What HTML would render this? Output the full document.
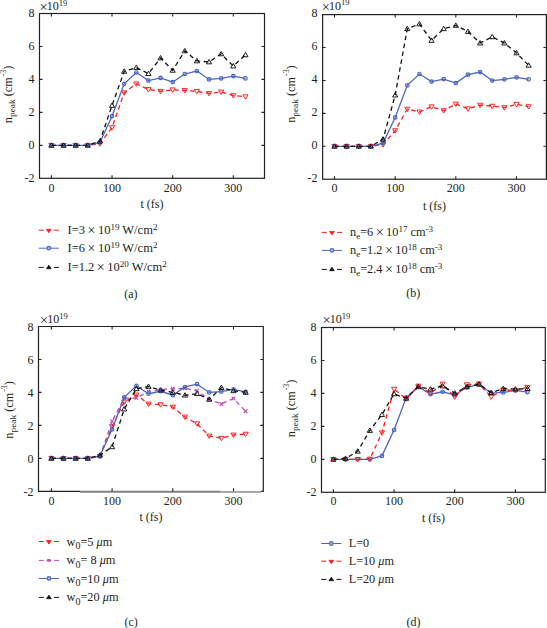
<!DOCTYPE html>
<html><head><meta charset="utf-8"><style>
html,body{margin:0;padding:0;background:#fff;width:547px;height:628px;overflow:hidden}
svg{display:block}
</style></head><body>
<svg width="547" height="628" viewBox="0 0 547 628" font-family='"Liberation Serif", serif' fill="#231f20">
<rect x="39.5" y="13.5" width="225.0" height="164.8" fill="none" stroke="#222" stroke-width="1.2"/>
<path d="M51.40,178.3v-3M51.40,13.5v3M112.03,178.3v-3M112.03,13.5v3M172.67,178.3v-3M172.67,13.5v3M233.30,178.3v-3M233.30,13.5v3M39.5,145.34h3M264.5,145.34h-3M39.5,112.38h3M264.5,112.38h-3M39.5,79.42h3M264.5,79.42h-3M39.5,46.46h3M264.5,46.46h-3" stroke="#222" stroke-width="1.1" fill="none"/>
<text x="51.40" y="192.10" text-anchor="middle" font-size="12">0</text>
<text x="112.03" y="192.10" text-anchor="middle" font-size="12">100</text>
<text x="172.67" y="192.10" text-anchor="middle" font-size="12">200</text>
<text x="233.30" y="192.10" text-anchor="middle" font-size="12">300</text>
<text x="34.50" y="182.00" text-anchor="end" font-size="12">-2</text>
<text x="34.50" y="149.04" text-anchor="end" font-size="12">0</text>
<text x="34.50" y="116.08" text-anchor="end" font-size="12">2</text>
<text x="34.50" y="83.12" text-anchor="end" font-size="12">4</text>
<text x="34.50" y="50.16" text-anchor="end" font-size="12">6</text>
<text x="34.50" y="17.20" text-anchor="end" font-size="12">8</text>
<text x="39.50" y="10.00" font-size="12"><tspan font-size="14.5" dy="2">×</tspan><tspan dx="-1" dy="-2">10</tspan><tspan font-size="8.5" dy="-4.5">19</tspan></text>
<text x="152.00" y="207.80" text-anchor="middle" font-size="12">t (fs)</text>
<text transform="translate(11.90,94.40) rotate(-90) scale(1.045,1)" text-anchor="middle" font-size="11.7">n<tspan font-size="9" dy="3">peak</tspan><tspan dy="-3"> (cm</tspan><tspan font-size="7.5" dy="-5.5" dx="1">-3</tspan><tspan dy="5.5">)</tspan></text>
<polyline points="51.40,145.34 63.53,145.34 75.65,145.34 87.78,145.34 99.91,143.69 112.03,127.54 124.16,92.77 136.29,83.87 148.41,89.47 160.54,91.29 172.67,89.80 184.79,90.46 196.92,91.29 209.05,93.43 221.17,91.94 233.30,95.57 245.43,96.72" fill="none" stroke="#ff1a1a" stroke-width="1.3" stroke-dasharray="4.5 3.5"/>
<path d="M48.80,143.47L54.00,143.47L51.40,147.84Z" fill="none" stroke="#ff1a1a" stroke-width="0.95" stroke-linejoin="miter"/>
<path d="M60.93,143.47L66.13,143.47L63.53,147.84Z" fill="none" stroke="#ff1a1a" stroke-width="0.95" stroke-linejoin="miter"/>
<path d="M73.05,143.47L78.25,143.47L75.65,147.84Z" fill="none" stroke="#ff1a1a" stroke-width="0.95" stroke-linejoin="miter"/>
<path d="M85.18,143.47L90.38,143.47L87.78,147.84Z" fill="none" stroke="#ff1a1a" stroke-width="0.95" stroke-linejoin="miter"/>
<path d="M97.31,141.82L102.51,141.82L99.91,146.19Z" fill="none" stroke="#ff1a1a" stroke-width="0.95" stroke-linejoin="miter"/>
<path d="M109.43,125.67L114.63,125.67L112.03,130.04Z" fill="none" stroke="#ff1a1a" stroke-width="0.95" stroke-linejoin="miter"/>
<path d="M121.56,90.89L126.76,90.89L124.16,95.27Z" fill="none" stroke="#ff1a1a" stroke-width="0.95" stroke-linejoin="miter"/>
<path d="M133.69,81.99L138.89,81.99L136.29,86.37Z" fill="none" stroke="#ff1a1a" stroke-width="0.95" stroke-linejoin="miter"/>
<path d="M145.81,87.60L151.01,87.60L148.41,91.97Z" fill="none" stroke="#ff1a1a" stroke-width="0.95" stroke-linejoin="miter"/>
<path d="M157.94,89.41L163.14,89.41L160.54,93.79Z" fill="none" stroke="#ff1a1a" stroke-width="0.95" stroke-linejoin="miter"/>
<path d="M170.07,87.93L175.27,87.93L172.67,92.30Z" fill="none" stroke="#ff1a1a" stroke-width="0.95" stroke-linejoin="miter"/>
<path d="M182.19,88.59L187.39,88.59L184.79,92.96Z" fill="none" stroke="#ff1a1a" stroke-width="0.95" stroke-linejoin="miter"/>
<path d="M194.32,89.41L199.52,89.41L196.92,93.79Z" fill="none" stroke="#ff1a1a" stroke-width="0.95" stroke-linejoin="miter"/>
<path d="M206.45,91.55L211.65,91.55L209.05,95.93Z" fill="none" stroke="#ff1a1a" stroke-width="0.95" stroke-linejoin="miter"/>
<path d="M218.57,90.07L223.77,90.07L221.17,94.44Z" fill="none" stroke="#ff1a1a" stroke-width="0.95" stroke-linejoin="miter"/>
<path d="M230.70,93.70L235.90,93.70L233.30,98.07Z" fill="none" stroke="#ff1a1a" stroke-width="0.95" stroke-linejoin="miter"/>
<path d="M242.83,94.85L248.03,94.85L245.43,99.22Z" fill="none" stroke="#ff1a1a" stroke-width="0.95" stroke-linejoin="miter"/>
<polyline points="51.40,145.34 63.53,145.34 75.65,145.34 87.78,145.34 99.91,142.54 112.03,116.17 124.16,83.87 136.29,72.50 148.41,80.57 160.54,77.94 172.67,82.06 184.79,73.98 196.92,71.02 209.05,79.42 221.17,78.43 233.30,76.12 245.43,78.43" fill="none" stroke="#4b67c0" stroke-width="1.3"/>
<circle cx="51.40" cy="145.34" r="1.75" fill="none" stroke="#4b67c0" stroke-width="1.2"/>
<circle cx="63.53" cy="145.34" r="1.75" fill="none" stroke="#4b67c0" stroke-width="1.2"/>
<circle cx="75.65" cy="145.34" r="1.75" fill="none" stroke="#4b67c0" stroke-width="1.2"/>
<circle cx="87.78" cy="145.34" r="1.75" fill="none" stroke="#4b67c0" stroke-width="1.2"/>
<circle cx="99.91" cy="142.54" r="1.75" fill="none" stroke="#4b67c0" stroke-width="1.2"/>
<circle cx="112.03" cy="116.17" r="1.75" fill="none" stroke="#4b67c0" stroke-width="1.2"/>
<circle cx="124.16" cy="83.87" r="1.75" fill="none" stroke="#4b67c0" stroke-width="1.2"/>
<circle cx="136.29" cy="72.50" r="1.75" fill="none" stroke="#4b67c0" stroke-width="1.2"/>
<circle cx="148.41" cy="80.57" r="1.75" fill="none" stroke="#4b67c0" stroke-width="1.2"/>
<circle cx="160.54" cy="77.94" r="1.75" fill="none" stroke="#4b67c0" stroke-width="1.2"/>
<circle cx="172.67" cy="82.06" r="1.75" fill="none" stroke="#4b67c0" stroke-width="1.2"/>
<circle cx="184.79" cy="73.98" r="1.75" fill="none" stroke="#4b67c0" stroke-width="1.2"/>
<circle cx="196.92" cy="71.02" r="1.75" fill="none" stroke="#4b67c0" stroke-width="1.2"/>
<circle cx="209.05" cy="79.42" r="1.75" fill="none" stroke="#4b67c0" stroke-width="1.2"/>
<circle cx="221.17" cy="78.43" r="1.75" fill="none" stroke="#4b67c0" stroke-width="1.2"/>
<circle cx="233.30" cy="76.12" r="1.75" fill="none" stroke="#4b67c0" stroke-width="1.2"/>
<circle cx="245.43" cy="78.43" r="1.75" fill="none" stroke="#4b67c0" stroke-width="1.2"/>
<polyline points="51.40,145.34 63.53,145.34 75.65,145.34 87.78,145.34 99.91,141.22 112.03,105.46 124.16,71.34 136.29,67.55 148.41,73.65 160.54,58.00 172.67,70.36 184.79,50.91 196.92,60.96 209.05,61.95 221.17,53.88 233.30,66.07 245.43,54.86" fill="none" stroke="#111111" stroke-width="1.3" stroke-dasharray="4.5 3.5"/>
<path d="M48.80,147.22L54.00,147.22L51.40,142.84Z" fill="none" stroke="#111111" stroke-width="0.95" stroke-linejoin="miter"/>
<path d="M60.93,147.22L66.13,147.22L63.53,142.84Z" fill="none" stroke="#111111" stroke-width="0.95" stroke-linejoin="miter"/>
<path d="M73.05,147.22L78.25,147.22L75.65,142.84Z" fill="none" stroke="#111111" stroke-width="0.95" stroke-linejoin="miter"/>
<path d="M85.18,147.22L90.38,147.22L87.78,142.84Z" fill="none" stroke="#111111" stroke-width="0.95" stroke-linejoin="miter"/>
<path d="M97.31,143.10L102.51,143.10L99.91,138.72Z" fill="none" stroke="#111111" stroke-width="0.95" stroke-linejoin="miter"/>
<path d="M109.43,107.33L114.63,107.33L112.03,102.96Z" fill="none" stroke="#111111" stroke-width="0.95" stroke-linejoin="miter"/>
<path d="M121.56,73.22L126.76,73.22L124.16,68.84Z" fill="none" stroke="#111111" stroke-width="0.95" stroke-linejoin="miter"/>
<path d="M133.69,69.43L138.89,69.43L136.29,65.05Z" fill="none" stroke="#111111" stroke-width="0.95" stroke-linejoin="miter"/>
<path d="M145.81,75.53L151.01,75.53L148.41,71.15Z" fill="none" stroke="#111111" stroke-width="0.95" stroke-linejoin="miter"/>
<path d="M157.94,59.87L163.14,59.87L160.54,55.50Z" fill="none" stroke="#111111" stroke-width="0.95" stroke-linejoin="miter"/>
<path d="M170.07,72.23L175.27,72.23L172.67,67.86Z" fill="none" stroke="#111111" stroke-width="0.95" stroke-linejoin="miter"/>
<path d="M182.19,52.78L187.39,52.78L184.79,48.41Z" fill="none" stroke="#111111" stroke-width="0.95" stroke-linejoin="miter"/>
<path d="M194.32,62.84L199.52,62.84L196.92,58.46Z" fill="none" stroke="#111111" stroke-width="0.95" stroke-linejoin="miter"/>
<path d="M206.45,63.83L211.65,63.83L209.05,59.45Z" fill="none" stroke="#111111" stroke-width="0.95" stroke-linejoin="miter"/>
<path d="M218.57,55.75L223.77,55.75L221.17,51.38Z" fill="none" stroke="#111111" stroke-width="0.95" stroke-linejoin="miter"/>
<path d="M230.70,67.95L235.90,67.95L233.30,63.57Z" fill="none" stroke="#111111" stroke-width="0.95" stroke-linejoin="miter"/>
<path d="M242.83,56.74L248.03,56.74L245.43,52.36Z" fill="none" stroke="#111111" stroke-width="0.95" stroke-linejoin="miter"/>
<path d="M38.70,230.20h5M53.90,230.20h5" stroke="#ff1a1a" stroke-width="1"/>
<path d="M46.40,229.30L51.20,229.30L48.80,232.80Z" fill="#ff1a1a" stroke="#ff1a1a" stroke-width="0.8"/>
<text x="67.50" y="234.20" font-size="12.5">I=3 <tspan font-size="14" dx="-0.6" dy="0.8">×</tspan><tspan dx="-0.6" dy="-0.8"> 10</tspan><tspan font-size="9" dy="-4.6">19</tspan><tspan dy="4.6"> W/cm</tspan><tspan font-size="9" dy="-4.6">2</tspan></text>
<path d="M38.70,248.20h20.2" stroke="#4b67c0" stroke-width="1"/>
<circle cx="48.80" cy="248.20" r="1.85" fill="#9fb0e0" stroke="#4b67c0" stroke-width="1.1"/>
<text x="67.50" y="252.20" font-size="12.5">I=6 <tspan font-size="14" dx="-0.6" dy="0.8">×</tspan><tspan dx="-0.6" dy="-0.8"> 10</tspan><tspan font-size="9" dy="-4.6">19</tspan><tspan dy="4.6"> W/cm</tspan><tspan font-size="9" dy="-4.6">2</tspan></text>
<path d="M38.70,267.40h5M53.90,267.40h5" stroke="#111111" stroke-width="1"/>
<path d="M46.40,268.70L51.20,268.70L48.80,265.20Z" fill="#111111" stroke="#111111" stroke-width="0.8"/>
<text x="67.50" y="271.40" font-size="12.5">I=1.2 <tspan font-size="14" dx="-0.6" dy="0.8">×</tspan><tspan dx="-0.6" dy="-0.8"> 10</tspan><tspan font-size="9" dy="-4.6">20</tspan><tspan dy="4.6"> W/cm</tspan><tspan font-size="9" dy="-4.6">2</tspan></text>
<text x="130.9" y="297.9" text-anchor="middle" font-size="12">(a)</text>
<rect x="322.6" y="14.6" width="223.79999999999995" height="164.6" fill="none" stroke="#222" stroke-width="1.2"/>
<path d="M334.50,179.2v-3M334.50,14.6v3M395.17,179.2v-3M395.17,14.6v3M455.83,179.2v-3M455.83,14.6v3M516.50,179.2v-3M516.50,14.6v3M322.6,146.28h3M546.4,146.28h-3M322.6,113.36h3M546.4,113.36h-3M322.6,80.44h3M546.4,80.44h-3M322.6,47.52h3M546.4,47.52h-3" stroke="#222" stroke-width="1.1" fill="none"/>
<text x="334.50" y="192.00" text-anchor="middle" font-size="12">0</text>
<text x="395.17" y="192.00" text-anchor="middle" font-size="12">100</text>
<text x="455.83" y="192.00" text-anchor="middle" font-size="12">200</text>
<text x="516.50" y="192.00" text-anchor="middle" font-size="12">300</text>
<text x="317.60" y="181.80" text-anchor="end" font-size="12">-2</text>
<text x="317.60" y="148.88" text-anchor="end" font-size="12">0</text>
<text x="317.60" y="115.96" text-anchor="end" font-size="12">2</text>
<text x="317.60" y="83.04" text-anchor="end" font-size="12">4</text>
<text x="317.60" y="50.12" text-anchor="end" font-size="12">6</text>
<text x="317.60" y="17.20" text-anchor="end" font-size="12">8</text>
<text x="321.80" y="9.70" font-size="12"><tspan font-size="14.5" dy="2">×</tspan><tspan dx="-1" dy="-2">10</tspan><tspan font-size="8.5" dy="-4.5">19</tspan></text>
<text x="434.50" y="209.50" text-anchor="middle" font-size="12">t (fs)</text>
<text transform="translate(294.50,94.10) rotate(-90) scale(1.045,1)" text-anchor="middle" font-size="11.7">n<tspan font-size="9" dy="3">peak</tspan><tspan dy="-3"> (cm</tspan><tspan font-size="7.5" dy="-5.5" dx="1">-3</tspan><tspan dy="5.5">)</tspan></text>
<polyline points="334.50,146.28 346.63,146.28 358.77,146.28 370.90,146.28 383.03,144.63 395.17,130.64 407.30,109.08 419.43,111.88 431.57,106.78 443.70,110.56 455.83,103.98 467.97,108.75 480.10,105.13 492.23,106.12 504.37,107.60 516.50,104.31 528.63,106.61" fill="none" stroke="#ff1a1a" stroke-width="1.3" stroke-dasharray="4.5 3.5"/>
<path d="M331.90,144.41L337.10,144.41L334.50,148.78Z" fill="none" stroke="#ff1a1a" stroke-width="0.95" stroke-linejoin="miter"/>
<path d="M344.03,144.41L349.23,144.41L346.63,148.78Z" fill="none" stroke="#ff1a1a" stroke-width="0.95" stroke-linejoin="miter"/>
<path d="M356.17,144.41L361.37,144.41L358.77,148.78Z" fill="none" stroke="#ff1a1a" stroke-width="0.95" stroke-linejoin="miter"/>
<path d="M368.30,144.41L373.50,144.41L370.90,148.78Z" fill="none" stroke="#ff1a1a" stroke-width="0.95" stroke-linejoin="miter"/>
<path d="M380.43,142.76L385.63,142.76L383.03,147.13Z" fill="none" stroke="#ff1a1a" stroke-width="0.95" stroke-linejoin="miter"/>
<path d="M392.57,128.77L397.77,128.77L395.17,133.14Z" fill="none" stroke="#ff1a1a" stroke-width="0.95" stroke-linejoin="miter"/>
<path d="M404.70,107.21L409.90,107.21L407.30,111.58Z" fill="none" stroke="#ff1a1a" stroke-width="0.95" stroke-linejoin="miter"/>
<path d="M416.83,110.00L422.03,110.00L419.43,114.38Z" fill="none" stroke="#ff1a1a" stroke-width="0.95" stroke-linejoin="miter"/>
<path d="M428.97,104.90L434.17,104.90L431.57,109.28Z" fill="none" stroke="#ff1a1a" stroke-width="0.95" stroke-linejoin="miter"/>
<path d="M441.10,108.69L446.30,108.69L443.70,113.06Z" fill="none" stroke="#ff1a1a" stroke-width="0.95" stroke-linejoin="miter"/>
<path d="M453.23,102.10L458.43,102.10L455.83,106.48Z" fill="none" stroke="#ff1a1a" stroke-width="0.95" stroke-linejoin="miter"/>
<path d="M465.37,106.88L470.57,106.88L467.97,111.25Z" fill="none" stroke="#ff1a1a" stroke-width="0.95" stroke-linejoin="miter"/>
<path d="M477.50,103.25L482.70,103.25L480.10,107.63Z" fill="none" stroke="#ff1a1a" stroke-width="0.95" stroke-linejoin="miter"/>
<path d="M489.63,104.24L494.83,104.24L492.23,108.62Z" fill="none" stroke="#ff1a1a" stroke-width="0.95" stroke-linejoin="miter"/>
<path d="M501.77,105.72L506.97,105.72L504.37,110.10Z" fill="none" stroke="#ff1a1a" stroke-width="0.95" stroke-linejoin="miter"/>
<path d="M513.90,102.43L519.10,102.43L516.50,106.81Z" fill="none" stroke="#ff1a1a" stroke-width="0.95" stroke-linejoin="miter"/>
<path d="M526.03,104.74L531.23,104.74L528.63,109.11Z" fill="none" stroke="#ff1a1a" stroke-width="0.95" stroke-linejoin="miter"/>
<polyline points="334.50,146.28 346.63,146.28 358.77,146.28 370.90,146.28 383.03,143.15 395.17,117.47 407.30,85.38 419.43,74.02 431.57,81.59 443.70,79.12 455.83,83.07 467.97,74.68 480.10,72.05 492.23,80.60 504.37,79.29 516.50,77.31 528.63,79.29" fill="none" stroke="#4b67c0" stroke-width="1.3"/>
<circle cx="334.50" cy="146.28" r="1.75" fill="none" stroke="#4b67c0" stroke-width="1.2"/>
<circle cx="346.63" cy="146.28" r="1.75" fill="none" stroke="#4b67c0" stroke-width="1.2"/>
<circle cx="358.77" cy="146.28" r="1.75" fill="none" stroke="#4b67c0" stroke-width="1.2"/>
<circle cx="370.90" cy="146.28" r="1.75" fill="none" stroke="#4b67c0" stroke-width="1.2"/>
<circle cx="383.03" cy="143.15" r="1.75" fill="none" stroke="#4b67c0" stroke-width="1.2"/>
<circle cx="395.17" cy="117.47" r="1.75" fill="none" stroke="#4b67c0" stroke-width="1.2"/>
<circle cx="407.30" cy="85.38" r="1.75" fill="none" stroke="#4b67c0" stroke-width="1.2"/>
<circle cx="419.43" cy="74.02" r="1.75" fill="none" stroke="#4b67c0" stroke-width="1.2"/>
<circle cx="431.57" cy="81.59" r="1.75" fill="none" stroke="#4b67c0" stroke-width="1.2"/>
<circle cx="443.70" cy="79.12" r="1.75" fill="none" stroke="#4b67c0" stroke-width="1.2"/>
<circle cx="455.83" cy="83.07" r="1.75" fill="none" stroke="#4b67c0" stroke-width="1.2"/>
<circle cx="467.97" cy="74.68" r="1.75" fill="none" stroke="#4b67c0" stroke-width="1.2"/>
<circle cx="480.10" cy="72.05" r="1.75" fill="none" stroke="#4b67c0" stroke-width="1.2"/>
<circle cx="492.23" cy="80.60" r="1.75" fill="none" stroke="#4b67c0" stroke-width="1.2"/>
<circle cx="504.37" cy="79.29" r="1.75" fill="none" stroke="#4b67c0" stroke-width="1.2"/>
<circle cx="516.50" cy="77.31" r="1.75" fill="none" stroke="#4b67c0" stroke-width="1.2"/>
<circle cx="528.63" cy="79.29" r="1.75" fill="none" stroke="#4b67c0" stroke-width="1.2"/>
<polyline points="334.50,146.28 346.63,146.28 358.77,146.28 370.90,146.28 383.03,139.20 395.17,95.09 407.30,28.76 419.43,23.98 431.57,40.44 443.70,28.76 455.83,25.46 467.97,31.55 480.10,43.08 492.23,36.82 504.37,43.08 516.50,52.95 528.63,65.30" fill="none" stroke="#111111" stroke-width="1.3" stroke-dasharray="4.5 3.5"/>
<path d="M331.90,148.16L337.10,148.16L334.50,143.78Z" fill="none" stroke="#111111" stroke-width="0.95" stroke-linejoin="miter"/>
<path d="M344.03,148.16L349.23,148.16L346.63,143.78Z" fill="none" stroke="#111111" stroke-width="0.95" stroke-linejoin="miter"/>
<path d="M356.17,148.16L361.37,148.16L358.77,143.78Z" fill="none" stroke="#111111" stroke-width="0.95" stroke-linejoin="miter"/>
<path d="M368.30,148.16L373.50,148.16L370.90,143.78Z" fill="none" stroke="#111111" stroke-width="0.95" stroke-linejoin="miter"/>
<path d="M380.43,141.08L385.63,141.08L383.03,136.70Z" fill="none" stroke="#111111" stroke-width="0.95" stroke-linejoin="miter"/>
<path d="M392.57,96.96L397.77,96.96L395.17,92.59Z" fill="none" stroke="#111111" stroke-width="0.95" stroke-linejoin="miter"/>
<path d="M404.70,30.63L409.90,30.63L407.30,26.26Z" fill="none" stroke="#111111" stroke-width="0.95" stroke-linejoin="miter"/>
<path d="M416.83,25.86L422.03,25.86L419.43,21.48Z" fill="none" stroke="#111111" stroke-width="0.95" stroke-linejoin="miter"/>
<path d="M428.97,42.32L434.17,42.32L431.57,37.94Z" fill="none" stroke="#111111" stroke-width="0.95" stroke-linejoin="miter"/>
<path d="M441.10,30.63L446.30,30.63L443.70,26.26Z" fill="none" stroke="#111111" stroke-width="0.95" stroke-linejoin="miter"/>
<path d="M453.23,27.34L458.43,27.34L455.83,22.96Z" fill="none" stroke="#111111" stroke-width="0.95" stroke-linejoin="miter"/>
<path d="M465.37,33.43L470.57,33.43L467.97,29.05Z" fill="none" stroke="#111111" stroke-width="0.95" stroke-linejoin="miter"/>
<path d="M477.50,44.95L482.70,44.95L480.10,40.58Z" fill="none" stroke="#111111" stroke-width="0.95" stroke-linejoin="miter"/>
<path d="M489.63,38.70L494.83,38.70L492.23,34.32Z" fill="none" stroke="#111111" stroke-width="0.95" stroke-linejoin="miter"/>
<path d="M501.77,44.95L506.97,44.95L504.37,40.58Z" fill="none" stroke="#111111" stroke-width="0.95" stroke-linejoin="miter"/>
<path d="M513.90,54.83L519.10,54.83L516.50,50.45Z" fill="none" stroke="#111111" stroke-width="0.95" stroke-linejoin="miter"/>
<path d="M526.03,67.17L531.23,67.17L528.63,62.80Z" fill="none" stroke="#111111" stroke-width="0.95" stroke-linejoin="miter"/>
<path d="M321.80,232.40h5M337.00,232.40h5" stroke="#ff1a1a" stroke-width="1"/>
<path d="M329.50,231.50L334.30,231.50L331.90,235.00Z" fill="#ff1a1a" stroke="#ff1a1a" stroke-width="0.8"/>
<text x="350.00" y="236.40" font-size="12.3">n<tspan font-size="9" dy="3">e</tspan><tspan dy="-3">=6 </tspan><tspan font-size="14" dx="-0.6" dy="0.8">×</tspan><tspan dx="-0.6" dy="-0.8"> 10</tspan><tspan font-size="9" dy="-4.6">17</tspan><tspan dy="4.6"> cm</tspan><tspan font-size="9" dy="-4.6">-3</tspan></text>
<path d="M321.80,250.40h20.2" stroke="#4b67c0" stroke-width="1"/>
<circle cx="331.90" cy="250.40" r="1.85" fill="#9fb0e0" stroke="#4b67c0" stroke-width="1.1"/>
<text x="350.00" y="254.40" font-size="12.3">n<tspan font-size="9" dy="3">e</tspan><tspan dy="-3">=1.2 </tspan><tspan font-size="14" dx="-0.6" dy="0.8">×</tspan><tspan dx="-0.6" dy="-0.8"> 10</tspan><tspan font-size="9" dy="-4.6">18</tspan><tspan dy="4.6"> cm</tspan><tspan font-size="9" dy="-4.6">-3</tspan></text>
<path d="M321.80,269.40h5M337.00,269.40h5" stroke="#111111" stroke-width="1"/>
<path d="M329.50,270.70L334.30,270.70L331.90,267.20Z" fill="#111111" stroke="#111111" stroke-width="0.8"/>
<text x="350.00" y="273.40" font-size="12.3">n<tspan font-size="9" dy="3">e</tspan><tspan dy="-3">=2.4 </tspan><tspan font-size="14" dx="-0.6" dy="0.8">×</tspan><tspan dx="-0.6" dy="-0.8"> 10</tspan><tspan font-size="9" dy="-4.6">18</tspan><tspan dy="4.6"> cm</tspan><tspan font-size="9" dy="-4.6">-3</tspan></text>
<text x="413.2" y="297.3" text-anchor="middle" font-size="12">(b)</text>
<path d="M38.5,491.3V326.5H263.3V491.3" fill="none" stroke="#222" stroke-width="1.2"/>
<path d="M37.9,491.3H80" stroke="#222" stroke-width="1.2"/>
<rect x="80" y="490.8" width="140.8" height="1.9" fill="#7c7c7c"/>
<rect x="220.8" y="491" width="40.2" height="1.9" fill="#a4a4a4"/>
<path d="M261,491.3H263.90000000000003" stroke="#222" stroke-width="1.2"/>
<path d="M51.40,491.3v-3M51.40,326.5v3M112.10,491.3v-3M112.10,326.5v3M172.80,491.3v-3M172.80,326.5v3M233.50,491.3v-3M233.50,326.5v3M38.5,458.34h3M263.3,458.34h-3M38.5,425.38h3M263.3,425.38h-3M38.5,392.42h3M263.3,392.42h-3M38.5,359.46h3M263.3,359.46h-3" stroke="#222" stroke-width="1.1" fill="none"/>
<text x="51.40" y="505.10" text-anchor="middle" font-size="12">0</text>
<text x="112.10" y="505.10" text-anchor="middle" font-size="12">100</text>
<text x="172.80" y="505.10" text-anchor="middle" font-size="12">200</text>
<text x="233.50" y="505.10" text-anchor="middle" font-size="12">300</text>
<text x="33.50" y="496.20" text-anchor="end" font-size="12">-2</text>
<text x="33.50" y="463.24" text-anchor="end" font-size="12">0</text>
<text x="33.50" y="430.28" text-anchor="end" font-size="12">2</text>
<text x="33.50" y="397.32" text-anchor="end" font-size="12">4</text>
<text x="33.50" y="364.36" text-anchor="end" font-size="12">6</text>
<text x="33.50" y="331.40" text-anchor="end" font-size="12">8</text>
<text x="40.00" y="323.00" font-size="12"><tspan font-size="14.5" dy="2">×</tspan><tspan dx="-1" dy="-2">10</tspan><tspan font-size="8.5" dy="-4.5">19</tspan></text>
<text x="150.90" y="520.60" text-anchor="middle" font-size="12">t (fs)</text>
<text transform="translate(12.50,409.90) rotate(-90) scale(1.045,1)" text-anchor="middle" font-size="11.7">n<tspan font-size="9" dy="3">peak</tspan><tspan dy="-3"> (cm</tspan><tspan font-size="7.5" dy="-5.5" dx="1">-3</tspan><tspan dy="5.5">)</tspan></text>
<polyline points="51.40,458.34 63.54,458.34 75.68,458.34 87.82,458.34 99.96,456.36 112.10,426.53 124.24,401.98 136.38,394.89 148.52,403.96 160.66,404.62 172.80,407.09 184.94,416.98 197.08,423.73 209.22,435.93 221.36,438.23 233.50,434.94 245.64,434.11" fill="none" stroke="#ff1a1a" stroke-width="1.3" stroke-dasharray="4.5 3.5"/>
<path d="M48.80,456.47L54.00,456.47L51.40,460.84Z" fill="none" stroke="#ff1a1a" stroke-width="0.95" stroke-linejoin="miter"/>
<path d="M60.94,456.47L66.14,456.47L63.54,460.84Z" fill="none" stroke="#ff1a1a" stroke-width="0.95" stroke-linejoin="miter"/>
<path d="M73.08,456.47L78.28,456.47L75.68,460.84Z" fill="none" stroke="#ff1a1a" stroke-width="0.95" stroke-linejoin="miter"/>
<path d="M85.22,456.47L90.42,456.47L87.82,460.84Z" fill="none" stroke="#ff1a1a" stroke-width="0.95" stroke-linejoin="miter"/>
<path d="M97.36,454.49L102.56,454.49L99.96,458.86Z" fill="none" stroke="#ff1a1a" stroke-width="0.95" stroke-linejoin="miter"/>
<path d="M109.50,424.66L114.70,424.66L112.10,429.03Z" fill="none" stroke="#ff1a1a" stroke-width="0.95" stroke-linejoin="miter"/>
<path d="M121.64,400.10L126.84,400.10L124.24,404.48Z" fill="none" stroke="#ff1a1a" stroke-width="0.95" stroke-linejoin="miter"/>
<path d="M133.78,393.02L138.98,393.02L136.38,397.39Z" fill="none" stroke="#ff1a1a" stroke-width="0.95" stroke-linejoin="miter"/>
<path d="M145.92,402.08L151.12,402.08L148.52,406.46Z" fill="none" stroke="#ff1a1a" stroke-width="0.95" stroke-linejoin="miter"/>
<path d="M158.06,402.74L163.26,402.74L160.66,407.12Z" fill="none" stroke="#ff1a1a" stroke-width="0.95" stroke-linejoin="miter"/>
<path d="M170.20,405.21L175.40,405.21L172.80,409.59Z" fill="none" stroke="#ff1a1a" stroke-width="0.95" stroke-linejoin="miter"/>
<path d="M182.34,415.10L187.54,415.10L184.94,419.48Z" fill="none" stroke="#ff1a1a" stroke-width="0.95" stroke-linejoin="miter"/>
<path d="M194.48,421.86L199.68,421.86L197.08,426.23Z" fill="none" stroke="#ff1a1a" stroke-width="0.95" stroke-linejoin="miter"/>
<path d="M206.62,434.05L211.82,434.05L209.22,438.43Z" fill="none" stroke="#ff1a1a" stroke-width="0.95" stroke-linejoin="miter"/>
<path d="M218.76,436.36L223.96,436.36L221.36,440.73Z" fill="none" stroke="#ff1a1a" stroke-width="0.95" stroke-linejoin="miter"/>
<path d="M230.90,433.06L236.10,433.06L233.50,437.44Z" fill="none" stroke="#ff1a1a" stroke-width="0.95" stroke-linejoin="miter"/>
<path d="M243.04,432.24L248.24,432.24L245.64,436.61Z" fill="none" stroke="#ff1a1a" stroke-width="0.95" stroke-linejoin="miter"/>
<polyline points="51.40,458.34 63.54,458.34 75.68,458.34 87.82,458.34 99.96,456.36 112.10,421.26 124.24,398.19 136.38,398.02 148.52,391.43 160.66,389.62 172.80,388.79 184.94,388.30 197.08,390.77 209.22,399.67 221.36,403.96 233.50,398.52 245.64,411.21" fill="none" stroke="#c04ab0" stroke-width="1.3" stroke-dasharray="4.5 3.5"/>
<path d="M49.60,456.54L53.20,460.14M49.60,460.14L53.20,456.54" stroke="#c04ab0" stroke-width="1.1"/>
<path d="M61.74,456.54L65.34,460.14M61.74,460.14L65.34,456.54" stroke="#c04ab0" stroke-width="1.1"/>
<path d="M73.88,456.54L77.48,460.14M73.88,460.14L77.48,456.54" stroke="#c04ab0" stroke-width="1.1"/>
<path d="M86.02,456.54L89.62,460.14M86.02,460.14L89.62,456.54" stroke="#c04ab0" stroke-width="1.1"/>
<path d="M98.16,454.56L101.76,458.16M98.16,458.16L101.76,454.56" stroke="#c04ab0" stroke-width="1.1"/>
<path d="M110.30,419.46L113.90,423.06M110.30,423.06L113.90,419.46" stroke="#c04ab0" stroke-width="1.1"/>
<path d="M122.44,396.39L126.04,399.99M122.44,399.99L126.04,396.39" stroke="#c04ab0" stroke-width="1.1"/>
<path d="M134.58,396.22L138.18,399.82M134.58,399.82L138.18,396.22" stroke="#c04ab0" stroke-width="1.1"/>
<path d="M146.72,389.63L150.32,393.23M146.72,393.23L150.32,389.63" stroke="#c04ab0" stroke-width="1.1"/>
<path d="M158.86,387.82L162.46,391.42M158.86,391.42L162.46,387.82" stroke="#c04ab0" stroke-width="1.1"/>
<path d="M171.00,386.99L174.60,390.59M171.00,390.59L174.60,386.99" stroke="#c04ab0" stroke-width="1.1"/>
<path d="M183.14,386.50L186.74,390.10M183.14,390.10L186.74,386.50" stroke="#c04ab0" stroke-width="1.1"/>
<path d="M195.28,388.97L198.88,392.57M195.28,392.57L198.88,388.97" stroke="#c04ab0" stroke-width="1.1"/>
<path d="M207.42,397.87L211.02,401.47M207.42,401.47L211.02,397.87" stroke="#c04ab0" stroke-width="1.1"/>
<path d="M219.56,402.16L223.16,405.76M219.56,405.76L223.16,402.16" stroke="#c04ab0" stroke-width="1.1"/>
<path d="M231.70,396.72L235.30,400.32M231.70,400.32L235.30,396.72" stroke="#c04ab0" stroke-width="1.1"/>
<path d="M243.84,409.41L247.44,413.01M243.84,413.01L247.44,409.41" stroke="#c04ab0" stroke-width="1.1"/>
<polyline points="51.40,458.34 63.54,458.34 75.68,458.34 87.82,458.34 99.96,455.87 112.10,429.34 124.24,397.36 136.38,385.83 148.52,393.74 160.66,391.27 172.80,395.22 184.94,386.98 197.08,384.18 209.22,392.42 221.36,391.60 233.50,389.45 245.64,391.93" fill="none" stroke="#4b67c0" stroke-width="1.3"/>
<circle cx="51.40" cy="458.34" r="1.75" fill="none" stroke="#4b67c0" stroke-width="1.2"/>
<circle cx="63.54" cy="458.34" r="1.75" fill="none" stroke="#4b67c0" stroke-width="1.2"/>
<circle cx="75.68" cy="458.34" r="1.75" fill="none" stroke="#4b67c0" stroke-width="1.2"/>
<circle cx="87.82" cy="458.34" r="1.75" fill="none" stroke="#4b67c0" stroke-width="1.2"/>
<circle cx="99.96" cy="455.87" r="1.75" fill="none" stroke="#4b67c0" stroke-width="1.2"/>
<circle cx="112.10" cy="429.34" r="1.75" fill="none" stroke="#4b67c0" stroke-width="1.2"/>
<circle cx="124.24" cy="397.36" r="1.75" fill="none" stroke="#4b67c0" stroke-width="1.2"/>
<circle cx="136.38" cy="385.83" r="1.75" fill="none" stroke="#4b67c0" stroke-width="1.2"/>
<circle cx="148.52" cy="393.74" r="1.75" fill="none" stroke="#4b67c0" stroke-width="1.2"/>
<circle cx="160.66" cy="391.27" r="1.75" fill="none" stroke="#4b67c0" stroke-width="1.2"/>
<circle cx="172.80" cy="395.22" r="1.75" fill="none" stroke="#4b67c0" stroke-width="1.2"/>
<circle cx="184.94" cy="386.98" r="1.75" fill="none" stroke="#4b67c0" stroke-width="1.2"/>
<circle cx="197.08" cy="384.18" r="1.75" fill="none" stroke="#4b67c0" stroke-width="1.2"/>
<circle cx="209.22" cy="392.42" r="1.75" fill="none" stroke="#4b67c0" stroke-width="1.2"/>
<circle cx="221.36" cy="391.60" r="1.75" fill="none" stroke="#4b67c0" stroke-width="1.2"/>
<circle cx="233.50" cy="389.45" r="1.75" fill="none" stroke="#4b67c0" stroke-width="1.2"/>
<circle cx="245.64" cy="391.93" r="1.75" fill="none" stroke="#4b67c0" stroke-width="1.2"/>
<polyline points="51.40,458.34 63.54,458.34 75.68,458.34 87.82,458.34 99.96,455.21 112.10,446.80 124.24,409.06 136.38,388.79 148.52,386.49 160.66,390.11 172.80,392.42 184.94,395.22 197.08,393.74 209.22,399.34 221.36,387.64 233.50,390.77 245.64,392.42" fill="none" stroke="#111111" stroke-width="1.3" stroke-dasharray="4.5 3.5"/>
<path d="M48.80,460.22L54.00,460.22L51.40,455.84Z" fill="none" stroke="#111111" stroke-width="0.95" stroke-linejoin="miter"/>
<path d="M60.94,460.22L66.14,460.22L63.54,455.84Z" fill="none" stroke="#111111" stroke-width="0.95" stroke-linejoin="miter"/>
<path d="M73.08,460.22L78.28,460.22L75.68,455.84Z" fill="none" stroke="#111111" stroke-width="0.95" stroke-linejoin="miter"/>
<path d="M85.22,460.22L90.42,460.22L87.82,455.84Z" fill="none" stroke="#111111" stroke-width="0.95" stroke-linejoin="miter"/>
<path d="M97.36,457.08L102.56,457.08L99.96,452.71Z" fill="none" stroke="#111111" stroke-width="0.95" stroke-linejoin="miter"/>
<path d="M109.50,448.68L114.70,448.68L112.10,444.30Z" fill="none" stroke="#111111" stroke-width="0.95" stroke-linejoin="miter"/>
<path d="M121.64,410.94L126.84,410.94L124.24,406.56Z" fill="none" stroke="#111111" stroke-width="0.95" stroke-linejoin="miter"/>
<path d="M133.78,390.67L138.98,390.67L136.38,386.29Z" fill="none" stroke="#111111" stroke-width="0.95" stroke-linejoin="miter"/>
<path d="M145.92,388.36L151.12,388.36L148.52,383.99Z" fill="none" stroke="#111111" stroke-width="0.95" stroke-linejoin="miter"/>
<path d="M158.06,391.99L163.26,391.99L160.66,387.61Z" fill="none" stroke="#111111" stroke-width="0.95" stroke-linejoin="miter"/>
<path d="M170.20,394.30L175.40,394.30L172.80,389.92Z" fill="none" stroke="#111111" stroke-width="0.95" stroke-linejoin="miter"/>
<path d="M182.34,397.10L187.54,397.10L184.94,392.72Z" fill="none" stroke="#111111" stroke-width="0.95" stroke-linejoin="miter"/>
<path d="M194.48,395.61L199.68,395.61L197.08,391.24Z" fill="none" stroke="#111111" stroke-width="0.95" stroke-linejoin="miter"/>
<path d="M206.62,401.22L211.82,401.22L209.22,396.84Z" fill="none" stroke="#111111" stroke-width="0.95" stroke-linejoin="miter"/>
<path d="M218.76,389.52L223.96,389.52L221.36,385.14Z" fill="none" stroke="#111111" stroke-width="0.95" stroke-linejoin="miter"/>
<path d="M230.90,392.65L236.10,392.65L233.50,388.27Z" fill="none" stroke="#111111" stroke-width="0.95" stroke-linejoin="miter"/>
<path d="M243.04,394.30L248.24,394.30L245.64,389.92Z" fill="none" stroke="#111111" stroke-width="0.95" stroke-linejoin="miter"/>
<path d="M38.80,541.50h5M54.00,541.50h5" stroke="#ff1a1a" stroke-width="1"/>
<path d="M46.50,540.60L51.30,540.60L48.90,544.10Z" fill="#ff1a1a" stroke="#ff1a1a" stroke-width="0.8"/>
<text x="66.50" y="545.50" font-size="12.3">w<tspan font-size="10" dy="3.2">0</tspan><tspan dy="-3.2">=5 </tspan><tspan font-style="italic">μ</tspan>m</text>
<path d="M38.80,560.40h5M54.00,560.40h5" stroke="#c04ab0" stroke-width="1"/>
<ellipse cx="48.90" cy="560.40" rx="2.4" ry="1.3" fill="#c04ab0"/>
<text x="66.50" y="564.40" font-size="12.3">w<tspan font-size="10" dy="3.2">0</tspan><tspan dy="-3.2">= 8 </tspan><tspan font-style="italic">μ</tspan>m</text>
<path d="M38.80,578.50h20.2" stroke="#4b67c0" stroke-width="1"/>
<circle cx="48.90" cy="578.50" r="1.85" fill="#9fb0e0" stroke="#4b67c0" stroke-width="1.1"/>
<text x="66.50" y="582.50" font-size="12.3">w<tspan font-size="10" dy="3.2">0</tspan><tspan dy="-3.2">=10 </tspan><tspan font-style="italic">μ</tspan>m</text>
<path d="M38.80,597.40h5M54.00,597.40h5" stroke="#111111" stroke-width="1"/>
<path d="M46.50,598.70L51.30,598.70L48.90,595.20Z" fill="#111111" stroke="#111111" stroke-width="0.8"/>
<text x="66.50" y="601.40" font-size="12.3">w<tspan font-size="10" dy="3.2">0</tspan><tspan dy="-3.2">=20 </tspan><tspan font-style="italic">μ</tspan>m</text>
<text x="131.2" y="625.5" text-anchor="middle" font-size="12">(c)</text>
<rect x="321.5" y="327.5" width="223.79999999999995" height="164.8" fill="none" stroke="#222" stroke-width="1.2"/>
<path d="M333.40,492.3v-3M333.40,327.5v3M394.07,492.3v-3M394.07,327.5v3M454.73,492.3v-3M454.73,327.5v3M515.40,492.3v-3M515.40,327.5v3M321.5,459.34h3M545.3,459.34h-3M321.5,426.38h3M545.3,426.38h-3M321.5,393.42h3M545.3,393.42h-3M321.5,360.46h3M545.3,360.46h-3" stroke="#222" stroke-width="1.1" fill="none"/>
<text x="333.40" y="505.20" text-anchor="middle" font-size="12">0</text>
<text x="394.07" y="505.20" text-anchor="middle" font-size="12">100</text>
<text x="454.73" y="505.20" text-anchor="middle" font-size="12">200</text>
<text x="515.40" y="505.20" text-anchor="middle" font-size="12">300</text>
<text x="316.50" y="496.00" text-anchor="end" font-size="12">-2</text>
<text x="316.50" y="463.04" text-anchor="end" font-size="12">0</text>
<text x="316.50" y="430.08" text-anchor="end" font-size="12">2</text>
<text x="316.50" y="397.12" text-anchor="end" font-size="12">4</text>
<text x="316.50" y="364.16" text-anchor="end" font-size="12">6</text>
<text x="316.50" y="331.20" text-anchor="end" font-size="12">8</text>
<text x="322.50" y="323.00" font-size="12"><tspan font-size="14.5" dy="2">×</tspan><tspan dx="-1" dy="-2">10</tspan><tspan font-size="8.5" dy="-4.5">19</tspan></text>
<text x="433.40" y="522.30" text-anchor="middle" font-size="12">t (fs)</text>
<text transform="translate(294.60,408.40) rotate(-90) scale(1.045,1)" text-anchor="middle" font-size="11.7">n<tspan font-size="9" dy="3">peak</tspan><tspan dy="-3"> (cm</tspan><tspan font-size="7.5" dy="-5.5" dx="1">-3</tspan><tspan dy="5.5">)</tspan></text>
<polyline points="333.40,459.34 345.53,459.34 357.67,459.34 369.80,459.34 381.93,455.88 394.07,430.01 406.20,397.54 418.33,386.66 430.47,394.24 442.60,391.77 454.73,395.07 466.87,387.32 479.00,384.36 491.13,393.09 503.27,392.43 515.40,390.45 527.53,392.10" fill="none" stroke="#4b67c0" stroke-width="1.3"/>
<circle cx="333.40" cy="459.34" r="1.75" fill="none" stroke="#4b67c0" stroke-width="1.2"/>
<circle cx="345.53" cy="459.34" r="1.75" fill="none" stroke="#4b67c0" stroke-width="1.2"/>
<circle cx="357.67" cy="459.34" r="1.75" fill="none" stroke="#4b67c0" stroke-width="1.2"/>
<circle cx="369.80" cy="459.34" r="1.75" fill="none" stroke="#4b67c0" stroke-width="1.2"/>
<circle cx="381.93" cy="455.88" r="1.75" fill="none" stroke="#4b67c0" stroke-width="1.2"/>
<circle cx="394.07" cy="430.01" r="1.75" fill="none" stroke="#4b67c0" stroke-width="1.2"/>
<circle cx="406.20" cy="397.54" r="1.75" fill="none" stroke="#4b67c0" stroke-width="1.2"/>
<circle cx="418.33" cy="386.66" r="1.75" fill="none" stroke="#4b67c0" stroke-width="1.2"/>
<circle cx="430.47" cy="394.24" r="1.75" fill="none" stroke="#4b67c0" stroke-width="1.2"/>
<circle cx="442.60" cy="391.77" r="1.75" fill="none" stroke="#4b67c0" stroke-width="1.2"/>
<circle cx="454.73" cy="395.07" r="1.75" fill="none" stroke="#4b67c0" stroke-width="1.2"/>
<circle cx="466.87" cy="387.32" r="1.75" fill="none" stroke="#4b67c0" stroke-width="1.2"/>
<circle cx="479.00" cy="384.36" r="1.75" fill="none" stroke="#4b67c0" stroke-width="1.2"/>
<circle cx="491.13" cy="393.09" r="1.75" fill="none" stroke="#4b67c0" stroke-width="1.2"/>
<circle cx="503.27" cy="392.43" r="1.75" fill="none" stroke="#4b67c0" stroke-width="1.2"/>
<circle cx="515.40" cy="390.45" r="1.75" fill="none" stroke="#4b67c0" stroke-width="1.2"/>
<circle cx="527.53" cy="392.10" r="1.75" fill="none" stroke="#4b67c0" stroke-width="1.2"/>
<polyline points="333.40,459.34 345.53,459.34 357.67,459.34 369.80,459.01 381.93,432.81 394.07,389.14 406.20,398.86 418.33,386.00 430.47,393.09 442.60,384.03 454.73,396.88 466.87,384.69 479.00,383.86 491.13,396.88 503.27,389.79 515.40,390.45 527.53,387.32" fill="none" stroke="#ff1a1a" stroke-width="1.3" stroke-dasharray="4.5 3.5"/>
<path d="M330.80,457.47L336.00,457.47L333.40,461.84Z" fill="none" stroke="#ff1a1a" stroke-width="0.95" stroke-linejoin="miter"/>
<path d="M342.93,457.47L348.13,457.47L345.53,461.84Z" fill="none" stroke="#ff1a1a" stroke-width="0.95" stroke-linejoin="miter"/>
<path d="M355.07,457.47L360.27,457.47L357.67,461.84Z" fill="none" stroke="#ff1a1a" stroke-width="0.95" stroke-linejoin="miter"/>
<path d="M367.20,457.14L372.40,457.14L369.80,461.51Z" fill="none" stroke="#ff1a1a" stroke-width="0.95" stroke-linejoin="miter"/>
<path d="M379.33,430.93L384.53,430.93L381.93,435.31Z" fill="none" stroke="#ff1a1a" stroke-width="0.95" stroke-linejoin="miter"/>
<path d="M391.47,387.26L396.67,387.26L394.07,391.64Z" fill="none" stroke="#ff1a1a" stroke-width="0.95" stroke-linejoin="miter"/>
<path d="M403.60,396.98L408.80,396.98L406.20,401.36Z" fill="none" stroke="#ff1a1a" stroke-width="0.95" stroke-linejoin="miter"/>
<path d="M415.73,384.13L420.93,384.13L418.33,388.50Z" fill="none" stroke="#ff1a1a" stroke-width="0.95" stroke-linejoin="miter"/>
<path d="M427.87,391.22L433.07,391.22L430.47,395.59Z" fill="none" stroke="#ff1a1a" stroke-width="0.95" stroke-linejoin="miter"/>
<path d="M440.00,382.15L445.20,382.15L442.60,386.53Z" fill="none" stroke="#ff1a1a" stroke-width="0.95" stroke-linejoin="miter"/>
<path d="M452.13,395.01L457.33,395.01L454.73,399.38Z" fill="none" stroke="#ff1a1a" stroke-width="0.95" stroke-linejoin="miter"/>
<path d="M464.27,382.81L469.47,382.81L466.87,387.19Z" fill="none" stroke="#ff1a1a" stroke-width="0.95" stroke-linejoin="miter"/>
<path d="M476.40,381.99L481.60,381.99L479.00,386.36Z" fill="none" stroke="#ff1a1a" stroke-width="0.95" stroke-linejoin="miter"/>
<path d="M488.53,395.01L493.73,395.01L491.13,399.38Z" fill="none" stroke="#ff1a1a" stroke-width="0.95" stroke-linejoin="miter"/>
<path d="M500.67,387.92L505.87,387.92L503.27,392.29Z" fill="none" stroke="#ff1a1a" stroke-width="0.95" stroke-linejoin="miter"/>
<path d="M512.80,388.58L518.00,388.58L515.40,392.95Z" fill="none" stroke="#ff1a1a" stroke-width="0.95" stroke-linejoin="miter"/>
<path d="M524.93,385.45L530.13,385.45L527.53,389.82Z" fill="none" stroke="#ff1a1a" stroke-width="0.95" stroke-linejoin="miter"/>
<polyline points="333.40,459.34 345.53,458.52 357.67,451.26 369.80,430.50 381.93,414.68 394.07,393.91 406.20,398.36 418.33,386.83 430.47,389.14 442.60,386.00 454.73,393.09 466.87,386.83 479.00,384.19 491.13,392.60 503.27,388.64 515.40,389.14 527.53,388.64" fill="none" stroke="#111111" stroke-width="1.3" stroke-dasharray="4.5 3.5"/>
<path d="M330.80,461.22L336.00,461.22L333.40,456.84Z" fill="none" stroke="#111111" stroke-width="0.95" stroke-linejoin="miter"/>
<path d="M342.93,460.39L348.13,460.39L345.53,456.02Z" fill="none" stroke="#111111" stroke-width="0.95" stroke-linejoin="miter"/>
<path d="M355.07,453.14L360.27,453.14L357.67,448.76Z" fill="none" stroke="#111111" stroke-width="0.95" stroke-linejoin="miter"/>
<path d="M367.20,432.38L372.40,432.38L369.80,428.00Z" fill="none" stroke="#111111" stroke-width="0.95" stroke-linejoin="miter"/>
<path d="M379.33,416.55L384.53,416.55L381.93,412.18Z" fill="none" stroke="#111111" stroke-width="0.95" stroke-linejoin="miter"/>
<path d="M391.47,395.79L396.67,395.79L394.07,391.41Z" fill="none" stroke="#111111" stroke-width="0.95" stroke-linejoin="miter"/>
<path d="M403.60,400.24L408.80,400.24L406.20,395.86Z" fill="none" stroke="#111111" stroke-width="0.95" stroke-linejoin="miter"/>
<path d="M415.73,388.70L420.93,388.70L418.33,384.33Z" fill="none" stroke="#111111" stroke-width="0.95" stroke-linejoin="miter"/>
<path d="M427.87,391.01L433.07,391.01L430.47,386.64Z" fill="none" stroke="#111111" stroke-width="0.95" stroke-linejoin="miter"/>
<path d="M440.00,387.88L445.20,387.88L442.60,383.50Z" fill="none" stroke="#111111" stroke-width="0.95" stroke-linejoin="miter"/>
<path d="M452.13,394.97L457.33,394.97L454.73,390.59Z" fill="none" stroke="#111111" stroke-width="0.95" stroke-linejoin="miter"/>
<path d="M464.27,388.70L469.47,388.70L466.87,384.33Z" fill="none" stroke="#111111" stroke-width="0.95" stroke-linejoin="miter"/>
<path d="M476.40,386.07L481.60,386.07L479.00,381.69Z" fill="none" stroke="#111111" stroke-width="0.95" stroke-linejoin="miter"/>
<path d="M488.53,394.47L493.73,394.47L491.13,390.10Z" fill="none" stroke="#111111" stroke-width="0.95" stroke-linejoin="miter"/>
<path d="M500.67,390.52L505.87,390.52L503.27,386.14Z" fill="none" stroke="#111111" stroke-width="0.95" stroke-linejoin="miter"/>
<path d="M512.80,391.01L518.00,391.01L515.40,386.64Z" fill="none" stroke="#111111" stroke-width="0.95" stroke-linejoin="miter"/>
<path d="M524.93,390.52L530.13,390.52L527.53,386.14Z" fill="none" stroke="#111111" stroke-width="0.95" stroke-linejoin="miter"/>
<path d="M321.20,543.50h20.2" stroke="#4b67c0" stroke-width="1"/>
<circle cx="331.30" cy="543.50" r="1.85" fill="#9fb0e0" stroke="#4b67c0" stroke-width="1.1"/>
<text x="348.70" y="546.90" font-size="12.2">L=0</text>
<path d="M321.20,561.20h5M336.40,561.20h5" stroke="#ff1a1a" stroke-width="1"/>
<path d="M328.90,560.30L333.70,560.30L331.30,563.80Z" fill="#ff1a1a" stroke="#ff1a1a" stroke-width="0.8"/>
<text x="348.70" y="564.60" font-size="12.2">L=10 <tspan font-style="italic" dx="0">μ</tspan>m</text>
<path d="M321.20,579.40h5M336.40,579.40h5" stroke="#111111" stroke-width="1"/>
<path d="M328.90,580.70L333.70,580.70L331.30,577.20Z" fill="#111111" stroke="#111111" stroke-width="0.8"/>
<text x="348.70" y="582.80" font-size="12.2">L=20 <tspan font-style="italic" dx="0">μ</tspan>m</text>
<text x="413.5" y="626" text-anchor="middle" font-size="12">(d)</text>
</svg>
</body></html>
